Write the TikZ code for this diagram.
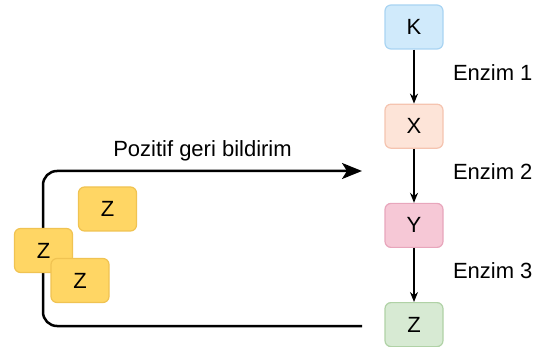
\documentclass[tikz,border=0pt]{standalone}
\usepackage{fontspec}
\setmainfont{Liberation Sans}
\usetikzlibrary{positioning,arrows.meta}
\definecolor{kfill}{HTML}{D0EAFB}
\definecolor{kline}{HTML}{A9D4F2}
\definecolor{xfill}{HTML}{FDE4D8}
\definecolor{xline}{HTML}{F5C4B0}
\definecolor{yfill}{HTML}{F6C8D6}
\definecolor{yline}{HTML}{E8A6BC}
\definecolor{zfill}{HTML}{D7EAD3}
\definecolor{zline}{HTML}{B0D2A6}
\definecolor{zyfill}{HTML}{FFD664}
\definecolor{zyline}{HTML}{F0C352}

\begin{document}
\begin{tikzpicture}
    [x=1pt,y=-1pt,font=\fontsize{22}{26}\selectfont,node distance=54pt,
    stepbox/.style={rectangle,draw,line width=1.2pt,rounded corners=6pt,
      minimum width=58pt,minimum height=44pt},
    zbox/.style={stepbox,fill=zyfill,draw=zyline},
    react/.style={-{Stealth[length=10pt,width=8pt]},line width=1.4pt},
    enz/.style={right,xshift=35pt,yshift=4pt},
    feedback/.style={-{Stealth[length=20pt,width=16pt,inset=5pt]},
      line width=2.5pt,rounded corners=14pt}]
    \useasboundingbox (0,0) rectangle (543,347);
    % pathway
    \node[stepbox,fill=kfill,draw=kline] (k) at (414,27) {K};
    \node[stepbox,fill=xfill,draw=xline] (x) [below=of k] {X};
    \node[stepbox,fill=yfill,draw=yline] (y) [below=of x] {Y};
    \node[stepbox,fill=zfill,draw=zline] (z) [below=of y] {Z};
    \draw[react] (k) -- node[enz] (e1) {Enzim 1} (x);
    \draw[react] (x) -- node[enz] (e2) {Enzim 2} (y);
    \draw[react] (y) -- node[enz] (e3) {Enzim 3} (z);
    % feedback loop
    \coordinate (fbstart) at (362,326);
    \coordinate (fbtip) at (362,171);
    \draw[feedback] (fbstart) -- ++(-319,0) |- node[pos=.75,above=5pt] (fb)
      {Pozitif geri bildirim} (fbtip);
    % Z pile
    \node[zbox] (z1) at (107.5,209) {Z};
    \node[zbox] (z2) at (43.5,250.5) {Z};
    \node[zbox] (z3) at (80,280.5) {Z};
\end{tikzpicture}
\end{document}
